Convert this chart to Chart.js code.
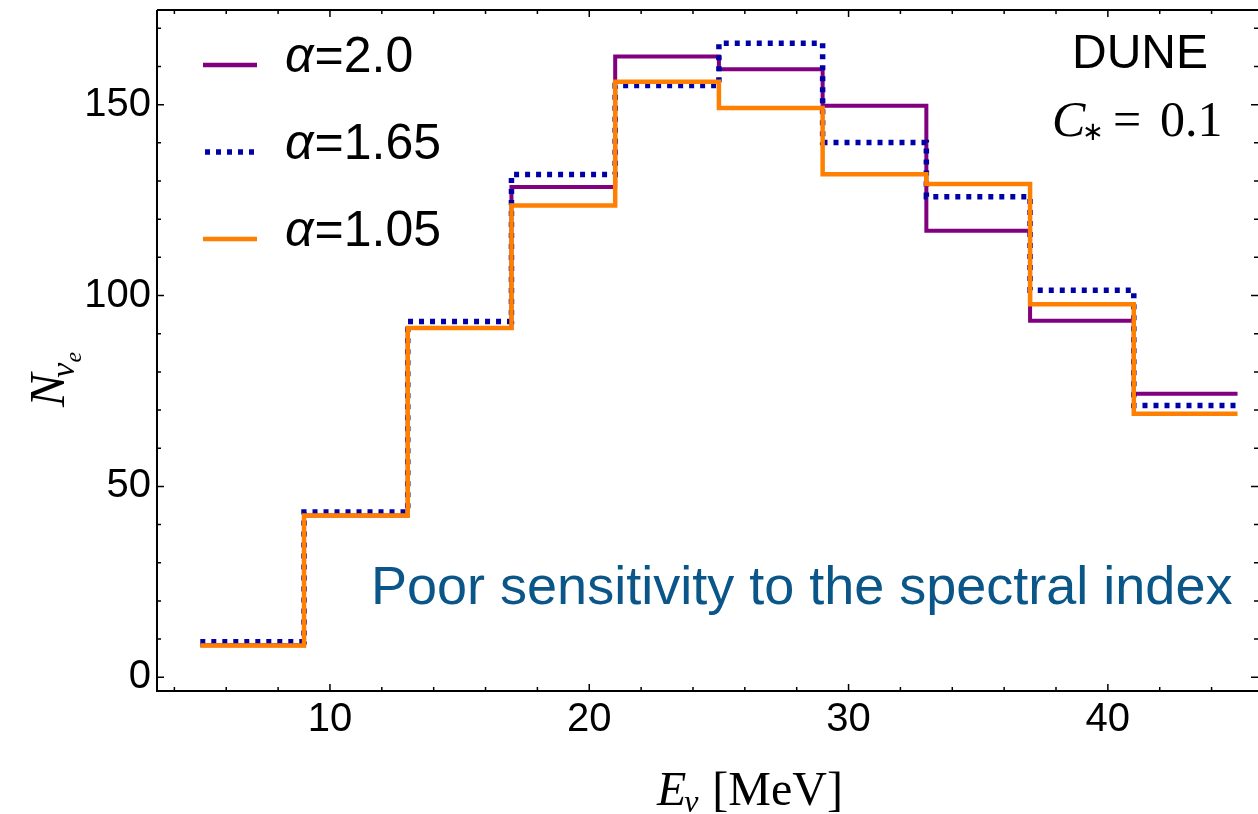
<!DOCTYPE html>
<html>
<head>
<meta charset="utf-8">
<script src="https://cdn.jsdelivr.net/npm/chart.js@4"></script>
<style>
html, body { margin: 0; padding: 0; background: #fff; }
</style>
</head>
<body>
<canvas id="myChart" width="1258" height="814"></canvas>
<script>
// bin edges (MeV) and event counts per bin
var binEdges = [5, 9, 13, 17, 21, 25, 29, 33, 37, 41, 45];
var alpha20 = [8.4, 42.4, 91.5, 128.4, 162.6, 159.3, 149.7, 117.0, 93.4, 74.3];
var alpha165 = [9.3, 43.3, 93.2, 131.7, 155.0, 166.1, 140.1, 125.9, 101.4, 71.2];
var alpha105 = [8.3, 42.4, 91.5, 123.6, 156.0, 149.1, 131.8, 129.2, 97.7, 69.0];
var seriesNames = ["2.0", "1.65", "1.05"];
var xTicks = [10, 20, 30, 40];
var yTicks = [0, 50, 100, 150];

var PURPLE = "#800080";
var BLUE = "#0000a8";
var ORANGE = "#ff8000";
var SANS = "'Liberation Sans', Arial, sans-serif";
var SERIF = "'Liberation Serif', 'Times New Roman', serif";

//turn bin counts into step points (last value repeated at the final edge)
function stepPoints(counts){
    return binEdges.map(function(e, i){
        return {x: e, y: counts[Math.min(i, counts.length - 1)]};
    });
}

//frame on all four sides with inward ticks, like the original plot
var framePlugin = {
    id: "frame",
    afterDatasetsDraw: function(chart){
        var ctx = chart.ctx;
        var a = chart.chartArea;
        var x = chart.scales.x, y = chart.scales.y;
        ctx.save();
        ctx.strokeStyle = "#000";
        ctx.lineWidth = 2;
        ctx.beginPath();
        ctx.moveTo(a.left, a.top); ctx.lineTo(a.right + 2, a.top);
        ctx.moveTo(a.left, a.top); ctx.lineTo(a.left, a.bottom);
        ctx.moveTo(a.left - 1, a.bottom); ctx.lineTo(a.right + 2, a.bottom);
        ctx.stroke();

        ctx.lineWidth = 1.5;
        ctx.beginPath();
        for(var v = 4; v <= 44; v += 2){
            var px = x.getPixelForValue(v);
            var len = (v % 10 === 0) ? 7 : 4;
            ctx.moveTo(px, a.bottom); ctx.lineTo(px, a.bottom - len);
            ctx.moveTo(px, a.top); ctx.lineTo(px, a.top + len);
        }
        for(var w = 0; w <= 170; w += 10){
            var py = y.getPixelForValue(w);
            var ln = (w % 50 === 0) ? 7 : 4;
            ctx.moveTo(a.left, py); ctx.lineTo(a.left + ln, py);
            ctx.moveTo(a.right, py); ctx.lineTo(a.right - ln, py);
        }
        ctx.stroke();
        ctx.restore();
    }
};

//legend, labels and axis titles
var textPlugin = {
    id: "texts",
    afterDraw: function(chart){
        var ctx = chart.ctx;
        ctx.save();
        ctx.textBaseline = "alphabetic";
        ctx.textAlign = "left";

        var colors = [PURPLE, BLUE, ORANGE];
        var lineY = [65, 152, 239];
        var baseY = [72, 159, 246];
        for(var i = 0; i < 3; i++){
            ctx.beginPath();
            ctx.strokeStyle = colors[i];
            if(i === 1){
                ctx.lineWidth = 5.5;
                ctx.setLineDash([5, 6]);
                ctx.moveTo(205, lineY[i]); ctx.lineTo(254, lineY[i]);
            } else {
                ctx.lineWidth = 4.5;
                ctx.setLineDash([]);
                ctx.moveTo(203, lineY[i]); ctx.lineTo(257, lineY[i]);
            }
            ctx.stroke();
            ctx.setLineDash([]);
            ctx.fillStyle = "#000";
            ctx.font = "italic 50px " + SANS;
            ctx.fillText("α", 285, baseY[i]);
            var aw = ctx.measureText("α").width;
            ctx.font = "50px " + SANS;
            ctx.fillText("=" + seriesNames[i], 285 + aw + 1, baseY[i]);
        }

        ctx.fillStyle = "#000";
        ctx.font = "48px " + SANS;
        ctx.textAlign = "right";
        ctx.fillText("DUNE", 1208, 68);

        ctx.textAlign = "left";
        ctx.font = "italic 50px " + SERIF;
        ctx.fillText("C", 1052, 136);
        var cw = ctx.measureText("C").width;
        ctx.font = "26px " + SERIF;
        ctx.fillText("∗", 1052 + cw - 3, 140);
        ctx.font = "50px " + SERIF;
        ctx.fillText("=", 1113, 136);
        ctx.fillText("0.1", 1160, 136);

        ctx.fillStyle = "#0b5689";
        ctx.font = "54px " + SANS;
        ctx.fillText("Poor sensitivity to the spectral index", 371, 604);

        //x title
        ctx.fillStyle = "#000";
        ctx.font = "italic 48px " + SERIF;
        ctx.fillText("E", 657, 805);
        var ew = ctx.measureText("E").width;
        ctx.font = "italic 32px " + SERIF;
        ctx.fillText("ν", 657 + ew - 2, 812);
        ctx.font = "48px " + SERIF;
        ctx.fillText("[MeV]", 657 + ew + 26, 805);

        //y title, rotated
        ctx.translate(64, 407);
        ctx.rotate(-Math.PI / 2);
        ctx.font = "italic 50px " + SERIF;
        ctx.fillText("N", 0, 0);
        var nw = ctx.measureText("N").width;
        ctx.font = "italic 34px " + SERIF;
        ctx.fillText("ν", nw - 4, 10);
        var vw = ctx.measureText("ν").width;
        ctx.font = "italic 24px " + SERIF;
        ctx.fillText("e", nw - 4 + vw, 17);
        ctx.restore();
    }
};

var chartData = {
    datasets: [{
        label: "α=2.0",
        data: stepPoints(alpha20),
        borderColor: PURPLE,
        borderWidth: 4,
        stepped: true,
        pointRadius: 0,
        fill: false,
        order: 3
    },
    {
        label: "α=1.65",
        data: stepPoints(alpha165),
        borderColor: BLUE,
        borderWidth: 5.5,
        borderDash: [5, 6],
        stepped: true,
        pointRadius: 0,
        fill: false,
        order: 2
    },
    {
        label: "α=1.05",
        data: stepPoints(alpha105),
        borderColor: ORANGE,
        borderWidth: 4.5,
        stepped: true,
        pointRadius: 0,
        fill: false,
        order: 1
    }]
};

var config = {
    type: "line",
    data: chartData,
    options: {
        responsive: false,
        animation: false,
        layout: { padding: { top: 10, right: 0, left: 0, bottom: 0 } },
        plugins: { legend: { display: false }, tooltip: { enabled: false } },
        scales: {
            x: {
                type: "linear",
                min: 3.33,
                max: 45.79,
                grid: { display: false, drawTicks: false },
                border: { display: false },
                afterBuildTicks: function(axis){ axis.ticks = xTicks.map(function(v){ return {value: v}; }); },
                afterFit: function(axis){
                    axis.height = 123;
                    axis.paddingLeft = 0; axis.paddingRight = 0;
                },
                ticks: { color: "#000", padding: 5, maxRotation: 0, font: { family: SANS, size: 40 } }
            },
            y: {
                min: -3.6,
                max: 174.8,
                grid: { display: false, drawTicks: false },
                border: { display: false },
                afterBuildTicks: function(axis){ axis.ticks = yTicks.map(function(v){ return {value: v}; }); },
                afterFit: function(axis){
                    axis.width = 157;
                    axis.paddingTop = 0; axis.paddingBottom = 0;
                },
                ticks: { color: "#000", padding: 6, font: { family: SANS, size: 40 } }
            }
        }
    },
    plugins: [framePlugin, textPlugin]
};

var myChart = new Chart(document.getElementById("myChart"), config);
</script>
</body>
</html>
